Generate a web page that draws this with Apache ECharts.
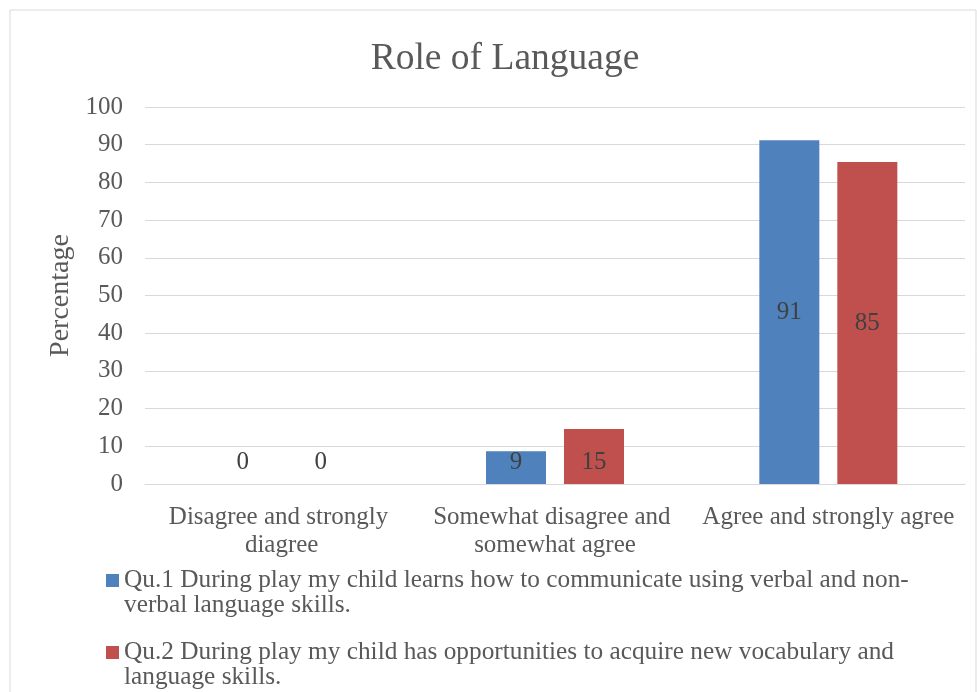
<!DOCTYPE html>
<html>
<head>
<meta charset="utf-8">
<script src="https://cdn.jsdelivr.net/npm/echarts@6/dist/echarts.min.js"></script>
<style>
 html, body { margin: 0; padding: 0; background: #fff; }
 #chart { width: 977px; height: 692px; }
</style>
</head>
<body>
<div id="chart"></div>
<script>
// chart data
const categories = ['Disagree and strongly diagree', 'Somewhat disagree and somewhat agree', 'Agree and strongly agree']
const seriesNames = [
 'Qu.1 During play my child learns how to communicate using verbal and non-verbal language skills.',
 'Qu.2 During play my child has opportunities to acquire new vocabulary and language skills.'
]
const legendLabels = [
 'Qu.1 During play my child learns how to communicate using verbal and non-\nverbal language skills.',
 'Qu.2 During play my child has opportunities to acquire new vocabulary and\nlanguage skills.'
]
const qu1 = [0, 8.7, 91.2]
const qu2 = [0, 14.6, 85.4]
const yTicks = [0, 100, 10]

const font = '"Liberation Serif", "Times New Roman", serif'
const textColor = '#595959'

const makeData = function (values) {
 return values.map(v => ({
  value: v,
  label: v < 20 ? { position: 'insideBottom', distance: 9 } : { position: 'inside' }
 }))
}

const chart = echarts.init(document.getElementById('chart'))
const option = {
 backgroundColor: '#fff',
 textStyle: { fontFamily: font },
 graphic: [{
  type: 'rect',
  shape: { x: 10, y: 10, width: 966, height: 700 },
  style: { fill: 'none', stroke: '#d9d9d9', lineWidth: 1 },
  silent: true
 }],
 title: {
  text: 'Role of Language',
  left: 500,
  textAlign: 'center',
  top: 35,
  textStyle: { fontFamily: font, fontSize: 37.5, fontWeight: 'normal', color: textColor }
 },
 legend: {
  orient: 'vertical',
  left: 106,
  top: 543,
  padding: 0,
  itemGap: -3,
  itemWidth: 13,
  itemHeight: 13,
  icon: 'rect',
  data: seriesNames,
  // leading blank line keeps the marker level with the first text line
  formatter: name => '\n' + legendLabels[seriesNames.indexOf(name)],
  textStyle: { fontFamily: font, fontSize: 25.3, lineHeight: 25, color: textColor }
 },
 grid: { left: 145, right: 12, top: 107, bottom: 208, containLabel: false },
 xAxis: {
  type: 'category',
  data: categories,
  axisLine: { lineStyle: { color: '#d9d9d9', width: 1 } },
  axisTick: { show: false },
  axisLabel: {
   color: textColor, fontFamily: font, fontSize: 25, lineHeight: 28,
   margin: 19, width: 262, overflow: 'break', interval: 0
  }
 },
 yAxis: {
  type: 'value',
  min: yTicks[0],
  max: yTicks[1],
  interval: yTicks[2],
  name: 'Percentage',
  nameLocation: 'middle',
  nameGap: 70,
  nameRotate: 90,
  nameTextStyle: { color: textColor, fontFamily: font, fontSize: 28 },
  axisLine: { show: false },
  axisTick: { show: false },
  splitLine: { lineStyle: { color: '#d9d9d9', width: 1 } },
  axisLabel: { color: textColor, fontFamily: font, fontSize: 25, margin: 22 }
 },
 series: [
  {
   name: seriesNames[0],
   type: 'bar',
   data: makeData(qu1),
   barWidth: 60,
   barGap: '30%',
   itemStyle: { color: '#4f81bd' },
   label: { show: true, color: '#404040', fontFamily: font, fontSize: 25, formatter: p => Math.round(p.value) }
  },
  {
   name: seriesNames[1],
   type: 'bar',
   data: makeData(qu2),
   barWidth: 60,
   barGap: '30%',
   itemStyle: { color: '#c0504d' },
   label: { show: true, color: '#404040', fontFamily: font, fontSize: 25, formatter: p => Math.round(p.value) }
  }
 ]
}
chart.setOption(option)
</script>
</body>
</html>
